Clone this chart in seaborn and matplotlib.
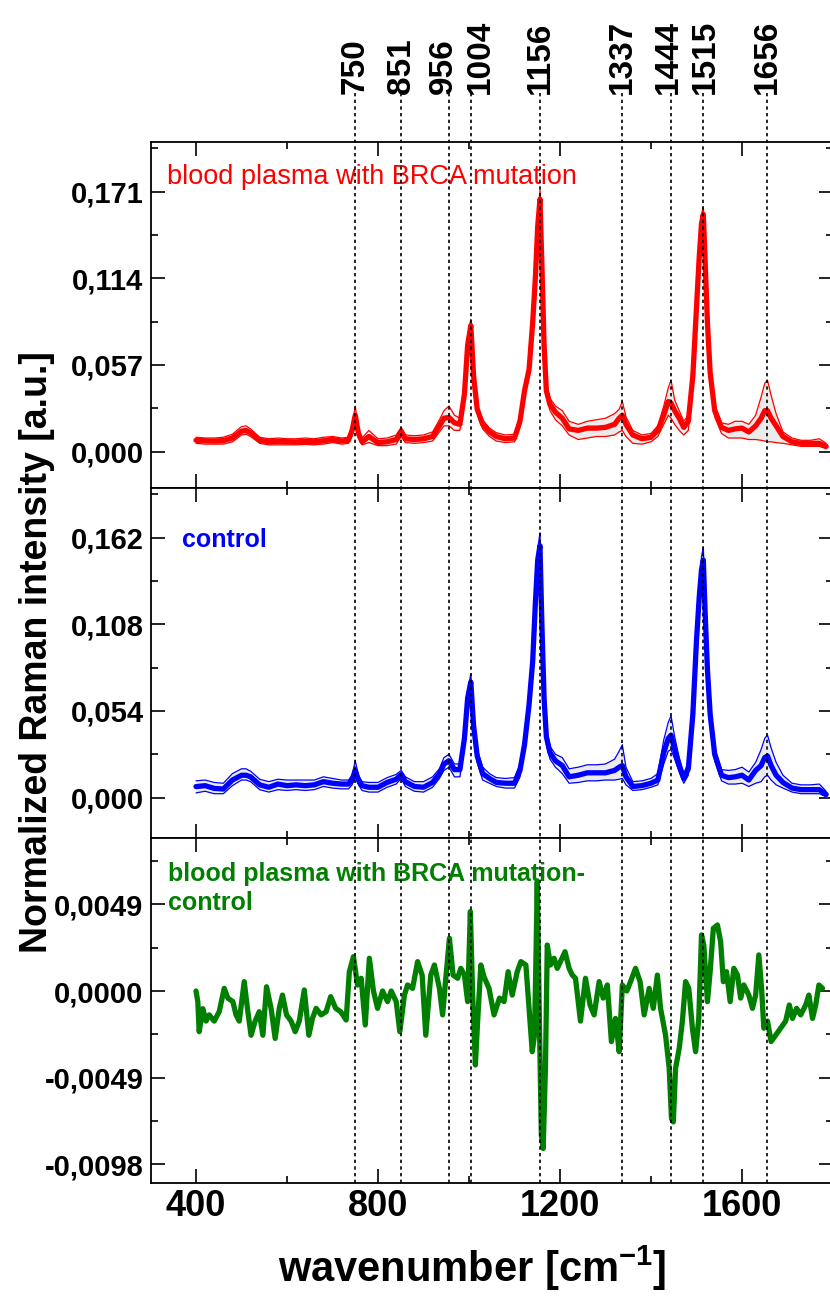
import numpy as np
import pandas as pd
import seaborn as sns
import matplotlib.pyplot as plt
import matplotlib.ticker as mtick
import matplotlib.transforms as mtrans
from matplotlib.lines import Line2D

# shared wavenumber grid of the averaged spectra [cm-1]
wavenumber = [
    400, 420, 440, 460, 480, 500, 510, 520, 540, 560,
    580, 600, 620, 640, 660, 680, 700, 720, 735, 743,
    750, 757, 765, 780, 800, 820, 840, 851, 860, 880,
    900, 920, 935, 945, 956, 968, 980, 990, 997, 1004,
    1010, 1018, 1030, 1045, 1060, 1080, 1100, 1112, 1122, 1132,
    1140, 1146, 1151, 1156, 1160, 1165, 1170, 1178, 1190, 1205,
    1220, 1240, 1260, 1280, 1300, 1320, 1330, 1337, 1345, 1360,
    1380, 1400, 1415, 1428, 1438, 1444, 1452, 1462, 1472, 1482,
    1492, 1500, 1506, 1511, 1515, 1519, 1524, 1530, 1540, 1555,
    1570, 1585, 1600, 1615, 1630, 1642, 1650, 1656, 1664, 1675,
    1690, 1710, 1730, 1750, 1770, 1785,
]

# blood plasma with BRCA mutation (x 0.001 a.u.)
brca_mean = [
    7.5, 7.2, 7.0, 7.3, 9.0, 13.5, 14.0, 12.5, 7.5, 6.5,
    6.8, 6.6, 6.4, 6.8, 6.5, 7.2, 8.0, 7.0, 7.5, 14.0,
    24.0, 12.0, 6.5, 10.0, 6.0, 6.5, 8.0, 13.5, 8.5, 8.0,
    8.5, 10.0, 17.0, 22.0, 22.5, 19.0, 18.0, 38.0, 70.0, 83.0,
    50.0, 28.0, 18.0, 13.0, 10.0, 8.5, 9.0, 20.0, 40.0, 54.0,
    85, 115, 148, 166, 125, 70, 40, 31, 26, 22,
    15, 14, 15.5, 15.5, 16, 18, 22, 24, 18, 11,
    8.5, 9.5, 14, 24, 33, 32, 27, 22, 16, 20,
    50, 95, 128, 150, 156, 125, 85, 52, 27, 16,
    14, 15, 15.5, 13, 17, 22, 27, 27, 22, 17,
    10, 6.5, 5.5, 5.5, 5.5, 3.5,
]
brca_upper = [
    9.5, 9.0, 9.0, 9.5, 11.5, 16.5, 17.0, 15.0, 9.5, 8.5,
    9.0, 8.5, 8.5, 9.0, 8.5, 9.5, 10.0, 9.0, 9.5, 18.0,
    30.0, 15.0, 9.0, 14.0, 8.5, 9.0, 11.0, 16.0, 11.0, 10.5,
    11.0, 13.0, 21.0, 27.0, 30.0, 24.0, 22.0, 43.0, 76.0, 87.0,
    55.0, 31.0, 21.0, 15.5, 12.5, 11.0, 11.5, 24.0, 44.0, 58.0,
    90, 120, 154, 172, 132, 75, 46, 35, 30, 27,
    20, 18, 20, 21, 22, 25, 28, 33, 23, 14,
    11, 12, 17, 30, 42, 47, 34, 27, 20, 24,
    55, 100, 133, 156, 161, 130, 90, 56, 31, 19,
    18, 20, 20, 18, 24, 36, 45, 47, 37, 25,
    13, 9, 7.5, 7.5, 8.5, 5.5,
]
brca_lower = [
    5.5, 5.0, 5.0, 5.0, 6.5, 11.0, 11.5, 10.0, 5.5, 4.5,
    4.5, 4.5, 4.5, 4.8, 4.5, 5.0, 6.0, 5.0, 5.5, 10.5,
    18.0, 9.0, 4.5, 6.0, 4.0, 4.0, 5.0, 10.0, 6.0, 5.5,
    6.0, 7.0, 13.0, 17.0, 17.0, 14.0, 14.0, 33.0, 64.0, 79.0,
    45.0, 25.0, 15.0, 10.0, 7.0, 6.0, 6.5, 16.0, 36.0, 50.0,
    80, 110, 142, 160, 118, 66, 36, 27, 21, 17,
    11, 8, 9, 10, 10, 11, 13, 14, 10, 5.5,
    5, 6.5, 10, 18, 24, 22, 18, 14, 11, 14,
    44, 88, 122, 145, 150, 120, 80, 48, 23, 12,
    9, 9, 9, 8, 8, 7.5, 7, 6.5, 6.5, 6,
    5.5, 4.5, 3.5, 3.5, 3.5, 2,
]

# control (x 0.001 a.u.)
control_mean = [
    6.9, 7.5, 5.8, 5.4, 11, 14, 14, 13, 8, 6.5,
    8.5, 7.5, 8, 7.5, 8, 10, 9, 8.5, 8.5, 11,
    17, 11, 7.5, 6.5, 6.5, 9.5, 11.5, 14.5, 10, 7,
    6.5, 9.5, 15, 21, 23, 17.5, 17.5, 37, 62, 72,
    45, 26, 15, 12, 9.5, 9, 9, 17, 33, 58,
    85, 122, 148, 157, 110, 62, 38, 28, 23, 20,
    13, 14, 15.5, 15.5, 15.5, 17, 19, 20, 13, 7,
    7.5, 9, 11, 28, 37, 39, 30, 20, 12, 18,
    52, 98, 125, 142, 148, 115, 80, 52, 27, 14,
    12.5, 13, 14, 11, 17, 20, 25, 26, 20, 14,
    9.5, 6, 5, 5, 5, 2,
]
control_upper = [
    10.5, 11, 9.5, 9, 15, 18, 18, 16.5, 11.5, 10,
    11.5, 11, 11, 11, 11, 13, 12, 11, 11, 14,
    23, 14, 10, 9.5, 9.5, 12.5, 14.5, 17, 13, 10,
    10, 13, 18, 25, 27, 21, 21, 42, 67, 77,
    50, 30, 19, 15, 12.5, 12, 12.5, 21, 38, 62,
    92, 128, 155, 165, 118, 68, 43, 32, 27, 25,
    18, 19, 20.5, 20.5, 21, 24, 29, 33, 19, 10,
    10.5, 12, 15, 36, 47, 51, 38, 25, 15, 22,
    57, 104, 132, 150, 156, 122, 86, 57, 31, 17.5,
    17, 17.5, 19, 16, 22, 30, 37, 39, 31, 22,
    14, 9, 8, 8, 8.5, 4,
]
control_lower = [
    3, 4, 2.5, 2.5, 7.5, 11, 11, 10, 5, 3.5,
    5, 4.5, 5, 4.5, 5, 7, 6, 5.5, 5.5, 8,
    13, 8, 4.5, 3.5, 3.5, 6.5, 8.5, 12, 7, 4,
    3.5, 6.5, 12, 17, 19, 13, 13, 32, 56, 67,
    40, 22, 11, 9, 7, 6, 6, 13, 28, 53,
    78, 116, 141, 150, 103, 57, 33, 24, 19, 15,
    9, 9.5, 10.5, 10.5, 11, 11, 11.5, 12, 8, 4.5,
    5, 6.5, 8, 21, 29, 30, 24, 16, 9, 14,
    47, 92, 118, 135, 141, 108, 74, 47, 23, 10.5,
    8.5, 8.5, 9, 7, 9, 10, 13, 14, 11, 8,
    6, 3.5, 2.5, 2.5, 2.5, 0.5,
]

# difference spectrum BRCA - control (x 0.0001 a.u.)
diff_wavenumber = [
    400, 404, 407, 415, 422, 429, 440, 451, 462, 470,
    481, 488, 495, 506, 513, 521, 530, 539, 547, 555,
    565, 574, 583, 590, 599, 609, 618, 627, 638, 648,
    656, 664, 675, 686, 696, 707, 718, 730, 737, 746,
    755, 763, 772, 781, 790, 799, 810, 821, 829, 840,
    848, 858, 865, 876, 887, 897, 905, 916, 924, 935,
    942, 949, 957, 965, 975, 982, 990, 997, 1003, 1008,
    1014, 1019, 1026, 1033, 1044, 1055, 1067, 1077, 1086, 1095,
    1106, 1114, 1125, 1132, 1139, 1144, 1147, 1150, 1154, 1159,
    1163, 1168, 1172, 1179, 1187, 1194, 1201, 1211, 1220, 1227,
    1234, 1245, 1256, 1266, 1275, 1286, 1295, 1304, 1313, 1322,
    1330, 1337, 1347, 1355, 1366, 1376, 1385, 1396, 1405, 1414,
    1421, 1432, 1440, 1445, 1449, 1454, 1462, 1469, 1476, 1483,
    1491, 1498, 1505, 1511, 1516, 1524, 1530, 1537, 1546, 1553,
    1559, 1566, 1574, 1582, 1590, 1597, 1604, 1615, 1623, 1630,
    1637, 1643, 1648, 1656, 1664, 1674, 1685, 1696, 1704, 1711,
    1720, 1729, 1740, 1747, 1755, 1762, 1769, 1777,
]
diff_value = [
    0, -6, -23, -10, -17, -13.5, -17, -11.7, 1.5, -4,
    -6, -13.5, -17, 5.3, -9.8, -25, -17, -11.7, -25, 2.4,
    -9.8, -26.8, -9.8, -2.3, -13.5, -17, -23, -17, 0.6, -25,
    -15.5, -9.8, -13.5, -11.7, -3.2, -9.8, -11.7, -16.4, 10.9, 19.4,
    3.4, 7.2, -19.2, 18.5, 0, -9.8, 0, -6, 0, -6,
    -23, -2.3, 3.4, 1.5, 16.6, 9, -25, 9, 14.7, 1.5,
    -13.5, 7.2, 29.8, 9, 7.2, 12.8, 9, -6, 44.9, -2.3,
    -41.8, -17, 14.7, 8, 1.5, -13.5, -4, -6, 10.9, -2.3,
    10.9, 16.6, 14.7, -9.8, -34.3, -25, 16.6, 61.8, -6, -81.4,
    -89, -43.7, 26, 14.7, 18.5, 12.8, 16.6, 22.2, 12.8, 9,
    7.2, -17, 7.2, -7.9, -13.5, 5.3, -4, 3.4, -28.6, -15.5,
    -34.3, 3.4, 0, 5.3, 12.8, 5.3, -13.5, 1.5, -9.8, 9,
    -9.8, -25, -43.7, -72, -74, -43.7, -32.4, -17, 5.3, 1.5,
    -21, -34.3, -15.5, 31.7, 26, -6, 10.9, 35.4, 37.3, 27.9,
    5.3, 10.9, -6, 12.8, 9, -4, 3.4, -2.3, -9.8, -2.3,
    20.4, 1.5, -21, -17, -28.6, -25, -21, -17, -7.9, -15.5,
    -9.8, -13.5, -7.9, -2.3, -15.5, -7.9, 3.4, 1.5,
]

peak_positions = [750, 851, 956, 1004, 1156, 1337, 1444, 1515, 1656]
x_ticks = [400, 800, 1200, 1600]
brca_ticks = [0.0, 0.057, 0.114, 0.171]
control_ticks = [0.0, 0.054, 0.108, 0.162]
diff_ticks = [-0.0098, -0.0049, 0.0, 0.0049]

sns.set_theme(style="ticks")
plt.rcParams['font.family'] = ['Liberation Sans', 'DejaVu Sans']
plt.rcParams['mathtext.fontset'] = 'custom'
plt.rcParams['mathtext.rm'] = 'Liberation Sans:bold'
plt.rcParams['mathtext.it'] = 'Liberation Sans:bold'
plt.rcParams['mathtext.bf'] = 'Liberation Sans:bold'
for key in ['text.color', 'axes.labelcolor', 'xtick.color', 'ytick.color', 'axes.edgecolor']:
    plt.rcParams[key] = 'black'

W, H = 830, 1297
fig = plt.figure(figsize=(W / 100, H / 100), dpi=100)
left = 150.5 / W
width = 682.5 / W
ax_top = fig.add_axes([left, 1 - 488.3 / H, width, (488.3 - 141.7) / H])
ax_mid = fig.add_axes([left, 1 - 838.0 / H, width, (838.0 - 488.3) / H])
ax_bot = fig.add_axes([left, 1 - 1183.3 / H, width, (1183.3 - 838.0) / H])


def band_panel(ax, mean, upper, lower, color):
    df = pd.DataFrame({'wn': wavenumber,
                       'mean': np.array(mean) / 1000,
                       'upper': np.array(upper) / 1000,
                       'lower': np.array(lower) / 1000})
    ax.fill_between(df['wn'], df['lower'], df['upper'], color='#ebebeb', lw=0, zorder=1)
    sns.lineplot(data=df, x='wn', y='upper', ax=ax, color=color, lw=0.9, zorder=2)
    sns.lineplot(data=df, x='wn', y='lower', ax=ax, color=color, lw=0.9, zorder=2)
    sns.lineplot(data=df, x='wn', y='mean', ax=ax, color=color, lw=3.8, zorder=3)


band_panel(ax_top, brca_mean, brca_upper, brca_lower, '#ff0000')
band_panel(ax_mid, control_mean, control_upper, control_lower, '#0000ff')

df_diff = pd.DataFrame({'wn': diff_wavenumber, 'diff': np.array(diff_value) / 10000})
sns.lineplot(data=df_diff, x='wn', y='diff', ax=ax_bot, color='#007f00', lw=3.8)

ax_top.set_ylim(-0.02406, 0.2038)
ax_mid.set_ylim(-0.0251, 0.1927)
ax_bot.set_ylim(-0.010868, 0.008647)

for ax, ticks, ndig in [(ax_top, brca_ticks, 3), (ax_mid, control_ticks, 3), (ax_bot, diff_ticks, 4)]:
    ax.set(xlabel='', ylabel='')
    ax.set_xlim(300, 1800)
    ax.set_xticks(x_ticks)
    ax.xaxis.set_minor_locator(mtick.MultipleLocator(200))
    ax.set_yticks(ticks)
    ax.set_yticklabels([f"{t:.{ndig}f}".replace('.', ',') for t in ticks])
    step = ticks[1] - ticks[0]
    ax.yaxis.set_minor_locator(mtick.FixedLocator([t + step / 2 for t in [ticks[0] - step] + ticks]))
    ax.tick_params(which='both', direction='in', top=True, right=True, width=1.2, color='black')
    ax.tick_params(which='major', length=10)
    ax.tick_params(which='minor', length=5)
    ax.tick_params(axis='y', labelsize=21, pad=5)
    ax.tick_params(axis='x', labelsize=26, pad=4, labelbottom=(ax is ax_bot))
    for lab in ax.get_xticklabels() + ax.get_yticklabels():
        lab.set_fontweight('bold')
    for sp in ax.spines.values():
        sp.set_linewidth(1.3)
        sp.set_color('black')

# panel captions
ax_top.text(0.024, 0.898, 'blood plasma with BRCA mutation', transform=ax_top.transAxes,
            color='#ff0000', fontsize=19.5, va='center', ha='left')
ax_mid.text(0.046, 0.852, 'control', transform=ax_mid.transAxes,
            color='#0000ff', fontsize=18, fontweight='bold', va='center', ha='left')
ax_bot.text(0.0256, 0.854, 'blood plasma with BRCA mutation-\ncontrol', transform=ax_bot.transAxes,
            color='#007f00', fontsize=18, fontweight='bold', va='center', ha='left',
            linespacing=1.25)

# dashed peak markers across all panels, with labels on top
# (crowded labels are nudged sideways so they do not collide)
label_shift = {956: -6, 1004: 10, 1444: -3, 1515: 2}
trans = mtrans.blended_transform_factory(ax_bot.transData, fig.transFigure)
for p in peak_positions:
    fig.add_artist(Line2D([p, p], [1 - 1183.3 / H, 1 - 93 / H], transform=trans,
                          color='black', lw=1.2, linestyle=(0, (2, 2)), zorder=10))
    t = mtrans.offset_copy(trans, fig=fig, x=label_shift.get(p, 0), y=0, units='dots')
    fig.text(p, 1 - 94 / H, str(p), transform=t, rotation=90, ha='center', va='bottom',
             fontsize=24, fontweight='bold', color='black')

fig.text(472 / W, 1 - 1268 / H, 'wavenumber [cm$^{-1}$]', ha='center', va='center',
         fontsize=30, fontweight='bold')
fig.text(37 / W, 1 - 652 / H, 'Normalized Raman intensity [a.u.]', rotation=90,
         ha='center', va='center', fontsize=27, fontweight='bold')

fig.savefig('out.png', dpi=100)
